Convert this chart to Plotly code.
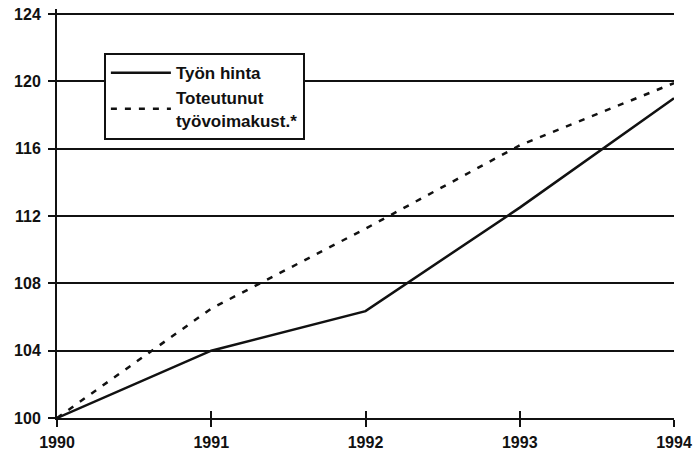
import plotly.graph_objects as go

years = [1990, 1991, 1992, 1993, 1994]
tyon_hinta = [100, 104, 106.35, 112.5, 119.0]
toteutunut = [100, 106.5, 111.25, 116.2, 119.9]
y_ticks = [100, 104, 108, 112, 116, 120, 124]
series_names = ["Työn hinta", "Toteutunut<br>työvoimakust.*"]

FONT = "Liberation Sans, Arial, sans-serif"

fig = go.Figure()
fig.add_trace(go.Scatter(x=years, y=tyon_hinta, mode="lines", name="<b>" + series_names[0] + "</b>",
                         line=dict(color="#111", width=2.5)))
fig.add_trace(go.Scatter(x=years, y=toteutunut, mode="lines",
                         name="<b>" + series_names[1].replace("<br>", "</b><br><b>") + "</b>",
                         line=dict(color="#111", width=2.5, dash="6px,8px")))
# invisible trace on overlay axis to give inside half of crossing ticks
fig.add_trace(go.Scatter(x=years, y=toteutunut, mode="lines", xaxis="x2",
                         line=dict(width=0), showlegend=False, hoverinfo="skip", opacity=0))

fig.update_layout(
    width=699, height=459,
    margin=dict(l=57, r=25, t=9, b=41),
    paper_bgcolor="white", plot_bgcolor="white",
    font=dict(family=FONT, size=16, color="#111"),
    showlegend=True,
    legend=dict(x=0.076, y=0.892, xanchor="left", yanchor="top",
                bgcolor="white", bordercolor="#111", borderwidth=2,
                font=dict(family=FONT, size=17, color="#111"),
                itemwidth=60, tracegroupgap=4),
    xaxis=dict(range=[1990, 1994], tickvals=years, ticktext=["<b>%d</b>" % y for y in years],
               showgrid=False, zeroline=False, showline=True, linecolor="#111", linewidth=2,
               ticks="outside", ticklen=7, tickwidth=2, tickcolor="#111", automargin=False,
               ticklabeloverflow="allow", ticklabelstandoff=2,
               tickfont=dict(family=FONT, size=16, color="#111")),
    xaxis2=dict(range=[1990, 1994], overlaying="x", anchor="y", side="bottom",
                tickvals=years, showticklabels=False, showgrid=False, zeroline=False,
                ticks="inside", ticklen=7, tickwidth=2, tickcolor="#111", showline=False,
                automargin=False),
    yaxis=dict(range=[100, 124.3], tickvals=y_ticks, ticktext=["<b>%d</b>" % v for v in y_ticks],
               showgrid=True, gridcolor="#111", gridwidth=2, zeroline=False,
               showline=True, linecolor="#111", linewidth=2, automargin=False,
               ticklabeloverflow="allow", ticklabelstandoff=4,
               ticks="outside", ticklen=7, tickwidth=2, tickcolor="#111",
               tickfont=dict(family=FONT, size=16, color="#111")),
)

fig.write_html("out.html", config={"displayModeBar": False},
               post_script="document.body.style.margin='0';")
